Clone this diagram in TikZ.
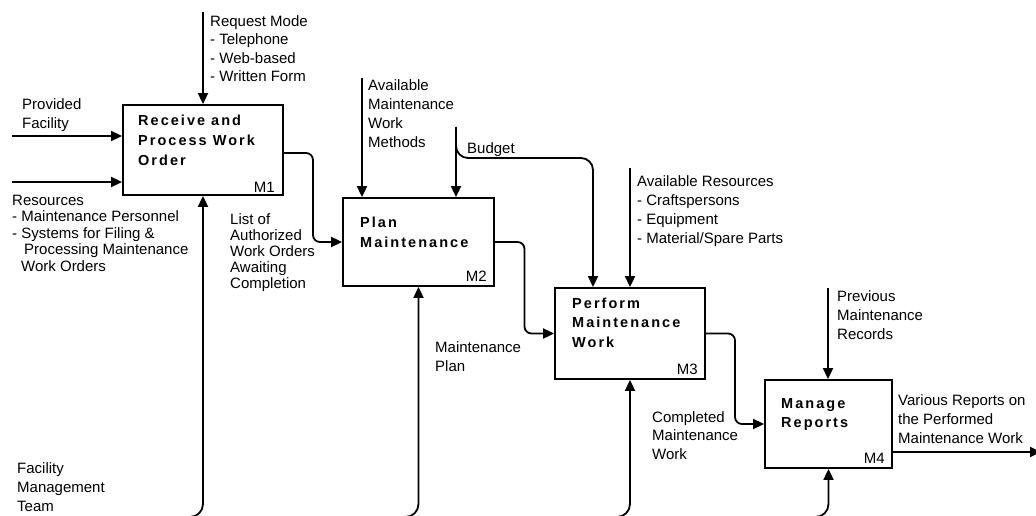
\documentclass[tikz,border=0pt]{standalone}
\usepackage{fontspec}
\setmainfont{Liberation Sans}
\newfontfamily\titlefont[LetterSpace=14]{Liberation Sans}
\usetikzlibrary{arrows.meta,calc}

\begin{document}
\begin{tikzpicture}[x=1pt,y=-1pt,
  flow/.style={line width=1.8pt,-{Triangle[length=11pt,width=10pt]}},
  flowr/.style={flow,rounded corners=7pt},
  flowm/.style={flow,rounded corners=13pt},
  act/.style={draw,line width=1.8pt,rectangle,inner sep=0pt},
  title/.style={font=\titlefont\bfseries\fontsize{14.5}{#1}\selectfont,align=left,anchor=north west,inner sep=0pt},
  title/.default=20,
  tag/.style={font=\fontsize{15}{18}\selectfont,anchor=base east,inner sep=0pt},
  lbl/.style={font=\fontsize{15}{#1}\selectfont,align=left,anchor=north west,inner sep=0pt},
  lbl/.default=19
]
\useasboundingbox (0,0) rectangle (1036,516);
\fill[white] (0,0) rectangle (1036,516);
\clip (0,0) rectangle (1036,516);

% activity boxes
\node[act,minimum width=160pt,minimum height=90pt] (m1) at (203,150) {};
\node[act,minimum width=151pt,minimum height=88pt] (m2) at (418.5,242) {};
\node[act,minimum width=150pt,minimum height=91pt] (m3) at (630,333.5) {};
\node[act,minimum width=127pt,minimum height=88pt] (m4) at (828.5,424) {};

% activity titles and numbers
\node[title] (m1t) at (138,115) {Receive and\\Process Work\\Order};
\node[title=19.5] (m2t) at (360,217) {Plan\\Maintenance};
\node[title=19.2] (m3t) at (572,298) {Perform\\Maintenance\\Work};
\node[title=19.5] (m4t) at (781,398) {Manage\\Reports};
\node[tag] (m1id) at (275,192) {M1};
\node[tag] (m2id) at (487,281) {M2};
\node[tag] (m3id) at (698,374) {M3};
\node[tag] (m4id) at (885,463) {M4};

% free ends of the boundary arrows
\coordinate (rq) at (203,12);
\coordinate (pf) at (12,136);
\coordinate (rs) at (12,182);
\coordinate (mw) at (362,78);
\coordinate (bud) at (456,127);
\coordinate (bj) at (593,158);
\coordinate (ar) at (630,168);
\coordinate (pr) at (828,288);
\coordinate (mb1) at (150,517);
\coordinate (mb2) at (365,517);
\coordinate (mb3) at (577,517);
\coordinate (mb4) at (775,517);
\coordinate (out) at (1041,452);

% M1
\draw[flow] (rq) -- (m1.north);
\draw[flow] (pf) -- (pf -| m1.west);
\draw[flow] (rs) -- (rs -| m1.west);
\draw[flowm] (mb1) -| (m1.south);
\draw[flowr] ([yshift=-3pt]m1.east) -| ($(m1.east)!.5!(m2.west)$) |- (m2.west);

% M2
\draw[flow] (mw) -- (mw |- m2.north);
\draw[flow] (bud) -- (bud |- m2.north);
\draw[flow,rounded corners=12pt] (bud) |- (bj) -- (bj |- m3.north);
\draw[flowm] (mb2) -| (m2.south);
\draw[flowr] (m2.east) -| ($(m2.east)!.5!(m3.west)$) |- (m3.west);

% M3
\draw[flow] (ar) -- (m3.north);
\draw[flowm] (mb3) -| (m3.south);
\draw[flowr] (m3.east) -| ($(m3.east)!.5!(m4.west)$) |- (m4.west);

% M4
\draw[flow] (pr) -- (pr |- m4.north);
\draw[flowm] (mb4) -| (m4.south);
\draw[flow] ([yshift=-28pt]m4.east) -- (out);

% arrow labels
\node[lbl=18.5] (treq) at (210,15) {Request Mode\\- Telephone\\- Web-based\\- Written Form};
\node[lbl] (tpf) at (22,98) {Provided\\Facility};
\node[lbl=16.3] (trs) at (12,195) {Resources\\- Maintenance Personnel\\- Systems for Filing \&\\\hspace*{12pt}Processing Maintenance\\[1pt]\hspace*{9pt}Work Orders};
\node[lbl=16] (tlist) at (230,213) {List of\\Authorized\\Work Orders\\Awaiting\\Completion};
\node[lbl] (tmw) at (368,79) {Available\\Maintenance\\Work\\Methods};
\node[lbl] (tbud) at (467,142) {Budget};
\node[lbl] (tar) at (637,175) {Available Resources\\- Craftspersons\\- Equipment\\- Material/Spare Parts};
\node[lbl] (tmp) at (435,341) {Maintenance\\Plan};
\node[lbl=18.5] (tcmw) at (652,411) {Completed\\Maintenance\\Work};
\node[lbl] (tprev) at (837,290) {Previous\\Maintenance\\Records};
\node[lbl] (tvar) at (898,394) {Various Reports on\\the Performed\\Maintenance Work};
\node[lbl] (tfmt) at (17,462) {Facility\\Management\\Team};
\end{tikzpicture}
\end{document}
